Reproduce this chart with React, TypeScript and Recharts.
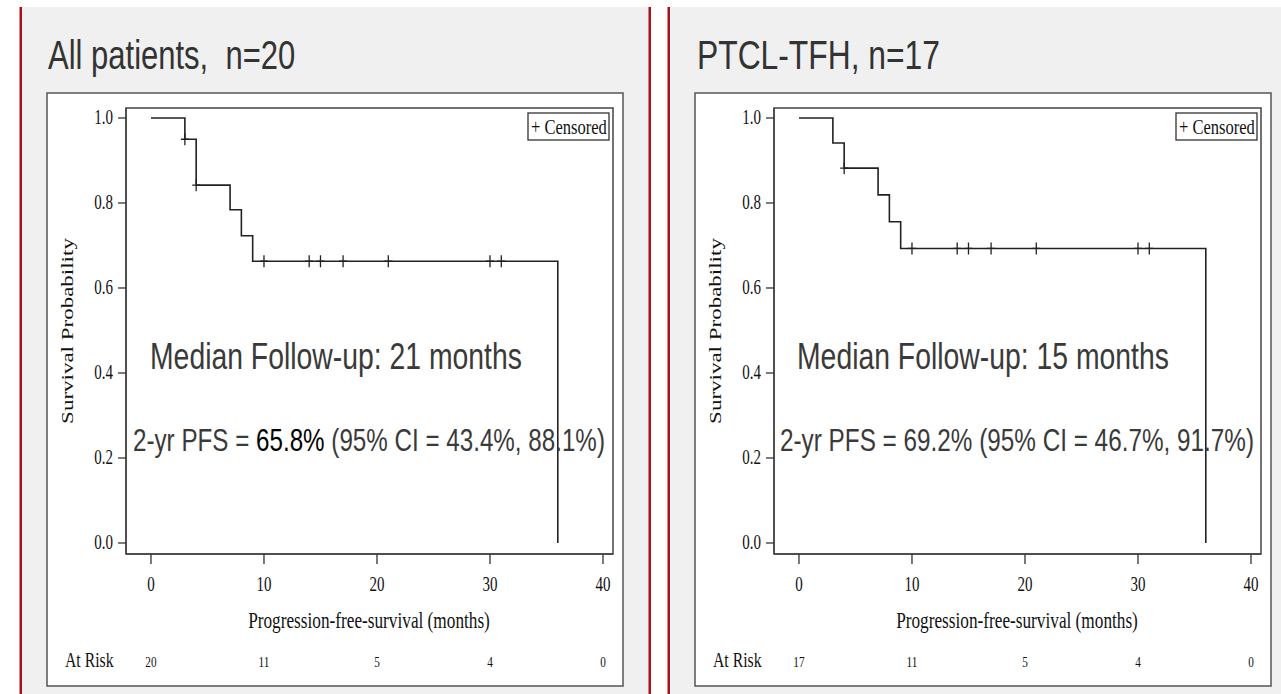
import React from "react";
import { ComposedChart, Line, Scatter, XAxis, YAxis, ReferenceArea } from "recharts";

const xTicks = [0, 10, 20, 30, 40];
const yTicks = [0, 0.2, 0.4, 0.6, 0.8, 1.0];

// All patients, n=20
const allTimes = [0, 3, 4, 7, 8, 9, 36];
const allSurv = [1, 0.95, 0.842, 0.784, 0.723, 0.663, 0];
const allCensorTimes = [3, 4, 10, 14, 15, 17, 21, 30, 31];
const allCensorSurv = [0.95, 0.842, 0.663, 0.663, 0.663, 0.663, 0.663, 0.663, 0.663];
const allAtRisk = [20, 11, 5, 4, 0];

// PTCL-TFH, n=17
const tfhTimes = [0, 3, 4, 7, 8, 9, 36];
const tfhSurv = [1, 0.941, 0.882, 0.819, 0.756, 0.693, 0];
const tfhCensorTimes = [4, 10, 14, 15, 17, 21, 30, 31];
const tfhCensorSurv = [0.882, 0.693, 0.693, 0.693, 0.693, 0.693, 0.693, 0.693];
const tfhAtRisk = [17, 11, 5, 4, 0];

const SERIF = "'Liberation Serif', 'Times New Roman', Times, serif";
const SANS = "'Liberation Sans', Arial, Helvetica, sans-serif";
const SQ = 0.75; // the source image is squeezed horizontally

const W = 576;
const H = 593;
const AXIS_Y = 461; // bottom of plot area, in chart coords

function SText({ x, y, size, family = SERIF, anchor = "start", fill = "#111", rotate = false, sx = SQ, children }: any) {
    const tf = rotate
        ? `translate(${x} ${y}) rotate(-90) scale(1 ${sx})`
        : `translate(${x} ${y}) scale(${sx} 1)`;
    return (
        <text transform={tf} fontSize={size} fontFamily={family} textAnchor={anchor} fill={fill} style={{ whiteSpace: "pre" }}>
            {children}
        </text>
    );
}

function XTick(props: any) {
    const { payload, atRisk } = props;
    const i = xTicks.indexOf(payload.value);
    const cx = payload.coordinate;
    return (
        <g>
            <SText x={cx} y={AXIS_Y + 37} size={20} anchor="middle">{String(payload.value)}</SText>
            <SText x={cx} y={AXIS_Y + 113} size={15} anchor="middle">{String(atRisk[i])}</SText>
        </g>
    );
}

function YTick(props: any) {
    const { payload } = props;
    return <SText x={66} y={payload.coordinate + 6.5} size={20} anchor="end">{payload.value.toFixed(1)}</SText>;
}

function CensorMark(props: any) {
    const { cx, cy } = props;
    if (cx == null || cy == null) return null;
    return <path d={`M${cx - 4},${cy}H${cx + 4}M${cx},${cy - 6}V${cy + 6}`} stroke="#222" strokeWidth={1.3} fill="none" />;
}

// Arial / Liberation Sans advance widths in em, used to lay out the PFS line pieces
const PFS_PREFIX_EM = 5.085;
const PFS_EST_EM = 2.835;
const PFS_TOTAL_EM = 19.509;
const MEDIAN_EM = 13.116;

function Panel({ left, times, surv, censorTimes, censorSurv, atRisk, medianX, pfsX, pfsLen, pfs }: any) {
    const curve = times.map((t: number, i: number) => ({ t, s: surv[i] }));
    const censored = censorTimes.map((t: number, i: number) => ({ t, s: censorSurv[i] }));
    const pfsSize = 32;
    const pfsSx = pfsLen / (PFS_TOTAL_EM * pfsSize);
    const x2 = pfsX + PFS_PREFIX_EM * pfsSize * pfsSx;
    const x3 = x2 + PFS_EST_EM * pfsSize * pfsSx;
    const medSize = 37;
    const medSx = 372 / (MEDIAN_EM * medSize);
    return (
        <div style={{ position: "absolute", left, top: 93, width: W, height: H }}>
            <ComposedChart width={W} height={H} margin={{ top: 15, right: 10, bottom: 0, left: 0 }}>
                <ReferenceArea x1={-2.21} x2={40.885} y1={-0.0259} y2={1.0235} fill="none" stroke="#444" strokeWidth={1.5} ifOverflow="visible" />
                <XAxis
                    type="number"
                    dataKey="t"
                    domain={[-2.21, 40.885]}
                    ticks={xTicks}
                    interval={0}
                    allowDataOverflow
                    height={132}
                    tickSize={10}
                    axisLine={{ stroke: "#444", strokeWidth: 1.5 }}
                    tickLine={{ stroke: "#333", strokeWidth: 1.3 }}
                    tick={(p: any) => <XTick {...p} atRisk={atRisk} />}
                />
                <YAxis
                    type="number"
                    dataKey="s"
                    domain={[-0.0259, 1.0235]}
                    ticks={yTicks}
                    interval={0}
                    allowDataOverflow
                    width={79}
                    tickSize={8}
                    axisLine={{ stroke: "#444", strokeWidth: 1.5 }}
                    tickLine={{ stroke: "#333", strokeWidth: 1.3 }}
                    tick={(p: any) => <YTick {...p} />}
                />
                <Line data={curve} dataKey="s" type="stepAfter" stroke="#222" strokeWidth={1.6} dot={false} isAnimationActive={false} />
                <Scatter data={censored} dataKey="s" shape={(p: any) => <CensorMark {...p} />} isAnimationActive={false} />
            </ComposedChart>
            <svg width={W} height={H} style={{ position: "absolute", left: 0, top: 0, pointerEvents: "none" }}>
                <SText x={26} y={238} size={23} anchor="middle" rotate>Survival Probability</SText>
                <SText x={322} y={535} size={23} anchor="middle">Progression-free-survival (months)</SText>
                <SText x={18} y={574} size={21}>At Risk</SText>
                <rect x={481} y={20} width={81} height={27} fill="#fff" stroke="#333" strokeWidth={1.3} />
                <SText x={484} y={41} size={22}>+ Censored</SText>
                <SText x={medianX} y={276} size={medSize} sx={medSx} family={SANS} fill="#3a3a3a">
                    {`Median Follow-up: ${pfs.median} months`}
                </SText>
                <SText x={pfsX} y={358} size={pfsSize} sx={pfsSx} family={SANS} fill="#3a3a3a">{"2-yr PFS = "}</SText>
                <SText x={x2} y={358} size={pfsSize} sx={pfsSx} family={SANS} fill={pfs.highlight ? "#000" : "#3a3a3a"}>{pfs.est}</SText>
                <SText x={x3} y={358} size={pfsSize} sx={pfsSx} family={SANS} fill="#3a3a3a">
                    {` (95% CI = ${pfs.lo}, ${pfs.hi})`}
                </SText>
            </svg>
        </div>
    );
}

export default function App() {
    return (
        <div style={{ position: "absolute", left: 0, top: 0, width: 1281, height: 694, background: "#fff", overflow: "hidden" }}>
            <svg width={1281} height={694} style={{ position: "absolute", left: 0, top: 0 }}>
                <rect x={22} y={7} width={627} height={687} fill="#f0f0f0" />
                <rect x={671} y={7} width={610} height={687} fill="#f0f0f0" />
                <rect x={19.5} y={7} width={2.5} height={687} fill="#a8101c" />
                <rect x={648.5} y={7} width={2.5} height={687} fill="#a8101c" />
                <rect x={667.5} y={7} width={2.5} height={687} fill="#a8101c" />
                <rect x={47} y={93} width={576} height={593} fill="#fff" stroke="#555" strokeWidth={1.5} />
                <rect x={695} y={93} width={576} height={593} fill="#fff" stroke="#555" strokeWidth={1.5} />
                <SText x={48} y={69} size={41} sx={249 / (8.03 * 41)} family={SANS} fill="#333">{"All patients,  n=20"}</SText>
                <SText x={697} y={69} size={41} sx={243 / (7.641 * 41)} family={SANS} fill="#333">{"PTCL-TFH, n=17"}</SText>
            </svg>
            <Panel
                left={47}
                times={allTimes}
                surv={allSurv}
                censorTimes={allCensorTimes}
                censorSurv={allCensorSurv}
                atRisk={allAtRisk}
                medianX={103}
                pfsX={86}
                pfsLen={472}
                pfs={{ median: 21, est: "65.8%", lo: "43.4%", hi: "88.1%", highlight: true }}
            />
            <Panel
                left={695}
                times={tfhTimes}
                surv={tfhSurv}
                censorTimes={tfhCensorTimes}
                censorSurv={tfhCensorSurv}
                atRisk={tfhAtRisk}
                medianX={102}
                pfsX={85}
                pfsLen={474}
                pfs={{ median: 15, est: "69.2%", lo: "46.7%", hi: "91.7%", highlight: false }}
            />
        </div>
    );
}
